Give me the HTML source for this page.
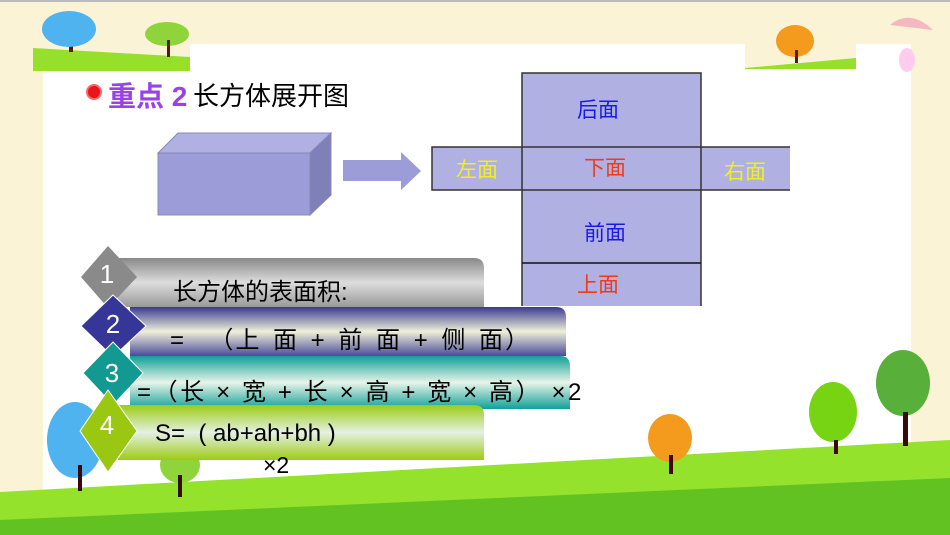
<!DOCTYPE html>
<html><head><meta charset="utf-8"><style>
body{margin:0;width:950px;height:535px;overflow:hidden;background:#faf3d6;position:relative;font-family:"Liberation Sans","Noto Sans CJK SC",sans-serif}
.a{position:absolute;white-space:nowrap}
.t{position:absolute;font-size:23px;color:#000;white-space:nowrap}
.num{position:absolute;color:#fff;font-size:26px;width:40px;text-align:center}
</style></head><body>
<svg class="a" style="left:0;top:0" width="950" height="535">
<rect x="0" y="0" width="950" height="2" fill="#bbb"/>
<rect x="43" y="44" width="868" height="491" fill="#fff"/>
<rect x="745" y="40" width="111" height="29" fill="#faf3d6"/>
<rect x="33" y="40" width="157" height="31" fill="#faf3d6"/>
<polygon points="33,48 190,57 190,71 33,71" fill="#96e02c"/>
<polygon points="745,68 856,58 856,69 745,69" fill="#96e02c"/>
<rect x="69" y="30" width="4" height="22" fill="#5a1a0a"/>
<ellipse cx="69" cy="29" rx="27" ry="18" fill="#4fb3ef"/>
<ellipse cx="167" cy="34" rx="22" ry="12" fill="#8fd43a"/>
<rect x="167" y="40" width="3" height="17" fill="#5a1a0a"/>
<ellipse cx="795" cy="41" rx="19" ry="16" fill="#f49a1c"/>
<rect x="795" y="50" width="3" height="13" fill="#5a1a0a"/>
<path d="M890,25 Q910,8 933,30 Z" fill="#f5b8c0"/>
<ellipse cx="907" cy="60" rx="8" ry="12" fill="#fce"/>
<polygon points="0,492 950,440 950,535 0,535" fill="#94e22c"/>
<polygon points="0,520 950,478 950,535 0,535" fill="#62c222"/>
<ellipse cx="670" cy="438" rx="22" ry="24" fill="#f49a1c"/><rect x="669" y="455" width="4" height="19" fill="#3a0a0a"/>
<ellipse cx="833" cy="412" rx="24" ry="30" fill="#77d412"/><rect x="834" y="440" width="4" height="14" fill="#3a0a0a"/>
<ellipse cx="903" cy="383" rx="27" ry="33" fill="#58b03a"/><rect x="903" y="412" width="5" height="34" fill="#3a0a0a"/>
<ellipse cx="75" cy="440" rx="28" ry="38" fill="#4fb3ef"/><rect x="78" y="465" width="4" height="26" fill="#3a0a0a"/>
<ellipse cx="180" cy="465" rx="20" ry="18" fill="#8fd43a"/><rect x="178" y="475" width="4" height="22" fill="#3a0a0a"/>
<polygon points="178,133 331,133 310,153 158,153" fill="#b0b0e3" stroke="#8888b8"/>
<polygon points="310,153 331,133 331,195 310,215" fill="#8080b8" stroke="#8888b8"/>
<rect x="158" y="153" width="152" height="62" fill="#9c9cd9" stroke="#8888b8"/>
<polygon points="343,160 401,160 401,152 421,171 401,190 401,181 343,181" fill="#9c9cd9"/>
<circle cx="94" cy="92" r="7" fill="#e8141a" stroke="#f66" stroke-width="2"/>
<rect x="522" y="73" width="179" height="233" fill="#b0b0e3"/>
<rect x="432" y="147" width="358" height="43" fill="#b0b0e3"/>
<g stroke="#333" stroke-width="1.5" fill="none">
<polyline points="522,306 522,73 701,73 701,306"/>
<polyline points="522,147 432,147 432,190 522,190"/>
<polyline points="701,147 790,147"/><polyline points="701,190 790,190"/>
<line x1="522" y1="147" x2="701" y2="147"/><line x1="522" y1="190" x2="701" y2="190"/>
<line x1="522" y1="263" x2="701" y2="263" stroke="#111"/>
</g>
<g font-size="21" text-anchor="middle" font-family="Liberation Sans,Noto Sans CJK SC,sans-serif">
<text x="598" y="117" fill="#1a1ae8">后面</text>
<text x="477" y="177" fill="#f0f020">左面</text>
<text x="605" y="175" fill="#f03a1a">下面</text>
<text x="745" y="179" fill="#f0f020">右面</text>
<text x="605" y="240" fill="#1a1ae8">前面</text>
<text x="598" y="292" fill="#f03a1a">上面</text>
</g>
<defs>
<linearGradient id="g1" x1="0" y1="0" x2="0" y2="1"><stop offset="0" stop-color="#888"/><stop offset=".5" stop-color="#ddd"/><stop offset="1" stop-color="#999"/></linearGradient>
<linearGradient id="g2" x1="0" y1="0" x2="0" y2="1"><stop offset="0" stop-color="#3a3a90"/><stop offset=".5" stop-color="#eef0d8"/><stop offset="1" stop-color="#4a4a9a"/></linearGradient>
<linearGradient id="g3" x1="0" y1="0" x2="0" y2="1"><stop offset="0" stop-color="#10a098"/><stop offset=".5" stop-color="#e8f4e8"/><stop offset="1" stop-color="#10a098"/></linearGradient>
<linearGradient id="g4" x1="0" y1="0" x2="0" y2="1"><stop offset="0" stop-color="#9ccc14"/><stop offset=".5" stop-color="#e4f0e4"/><stop offset="1" stop-color="#9ccc14"/></linearGradient>
</defs>
<path d="M118,258 H474 Q484,258 484,268 V307 H118 Z" fill="url(#g1)"/>
<polygon points="108,246 137,277 108,308 81,277" fill="#8a8a8a"/>
<path d="M130,307 H556 Q566,307 566,317 V356 H130 Z" fill="url(#g2)"/>
<polygon points="113,295 146,326 113,357 81,326" fill="#363699" stroke="#fff"/>
<path d="M130,356 H560 Q570,356 570,366 V409 H130 Z" fill="url(#g3)"/>
<polygon points="113,342 143,373 113,405 83,373" fill="#129a92" stroke="#fff"/>
<path d="M118,405 H474 Q484,405 484,415 V460 H118 Z" fill="url(#g4)"/>
<polygon points="108,390 137,431 108,472 80,431" fill="#9ac812" stroke="#fff"/>
</svg>
<div class="a" style="left:108px;top:75px;font-size:28px;font-weight:bold;color:#9a42e8">重点 2</div>
<div class="a" style="left:193px;top:76px;font-size:26px;color:#000">长方体展开图</div>

<div class="num" style="left:87px;top:259px">1</div>
<div class="num" style="left:93px;top:309px">2</div>
<div class="num" style="left:92px;top:358px">3</div>
<div class="num" style="left:87px;top:410px">4</div>

<div class="t" style="left:173px;top:272px;font-size:24px">长方体的表面积:</div>
<div class="t" style="left:170px;top:320px;font-size:24px;letter-spacing:2px;word-spacing:3px">=&nbsp; （上 面 + 前 面 + 侧 面）</div>
<div class="t" style="left:137px;top:372px;font-size:24px;letter-spacing:2.6px">=（长 × 宽 + 长 × 高 + 宽 × 高） ×2</div>
<div class="t" style="left:155px;top:420px;font-size:24px">S=&nbsp; ( ab+ah+bh )</div>
<div class="t" style="left:263px;top:452px;font-size:23px">×2</div>
</body></html>
